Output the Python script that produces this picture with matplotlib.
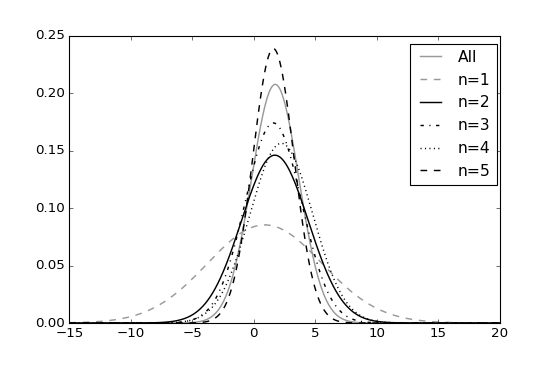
import numpy as np
import matplotlib
matplotlib.use('Agg')
import matplotlib.pyplot as plt

plt.style.use('classic')

# series: name, centre, spread (normal densities)
labels = ['All', 'n=1', 'n=2', 'n=3', 'n=4', 'n=5']
centres = [1.75, 0.9, 1.72, 1.6, 2.25, 1.6]
spreads = [1.92, 4.67, 2.73, 2.29, 2.55, 1.67]

colors = ['0.6', '0.6', 'k', 'k', 'k', 'k']
styles = ['-', '--', '-', '-.', ':', '--']

x = np.linspace(-15, 20, 700)

fig = plt.figure(figsize=(555 / 80, 370 / 80), dpi=80)
ax = fig.add_axes([0.125, 0.127, 0.775, 0.776])
for lab, mu, sd, c, ls in zip(labels, centres, spreads, colors, styles):
    y = np.exp(-0.5 * ((x - mu) / sd) ** 2) / (sd * np.sqrt(2 * np.pi))
    ax.plot(x, y, color=c, linestyle=ls, linewidth=1.3, label=lab)

ax.set_xlim(-15, 20)
ax.set_ylim(0, 0.25)
ax.legend(loc='upper right', fontsize=14, handlelength=1.9,
          bbox_to_anchor=(1.012, 1.0))
fig.savefig('out.png', dpi=80)
